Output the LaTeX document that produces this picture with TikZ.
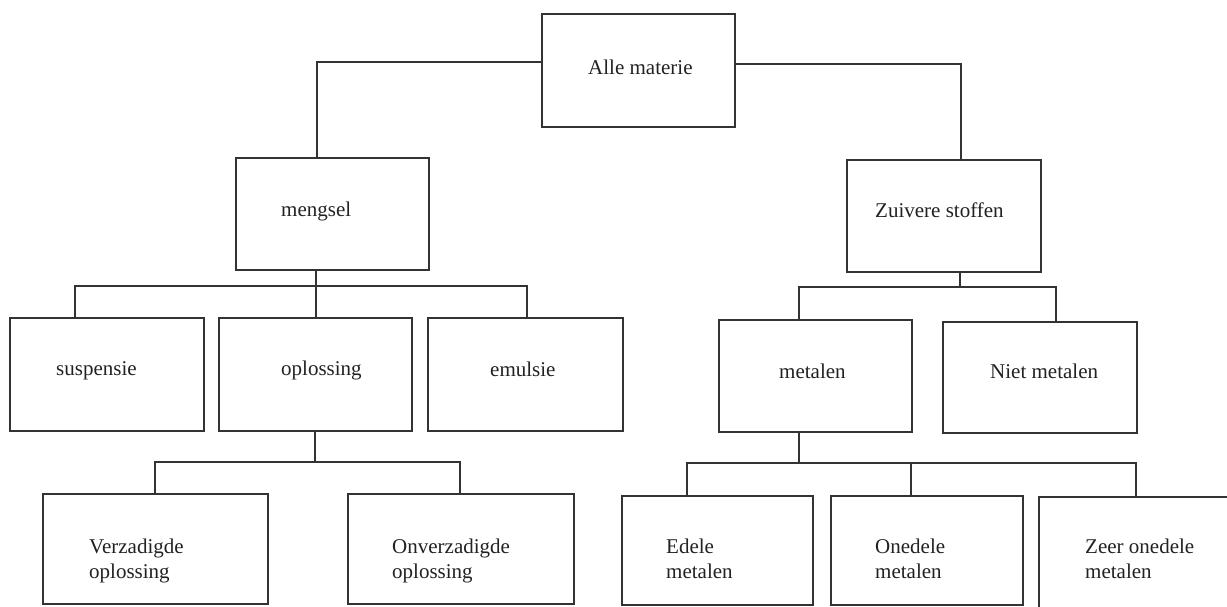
\documentclass[tikz,border=0pt]{standalone}
\usepackage{fontspec}
\setmainfont{Liberation Serif}
\definecolor{ink}{HTML}{333333}
\definecolor{txt}{HTML}{222222}
\tikzset{
  box/.style={draw=ink, line width=2pt, rectangle, inner sep=0pt, fill=none},
  conn/.style={draw=ink, line width=2pt, line cap=rect},
  lbl/.style={anchor=base west, inner sep=0pt, text=txt, font=\fontsize{21}{25}\selectfont, align=left},
}
\newcommand\mybox[5]{%
  \pgfmathsetmacro\cx{(#2+#4)/2}%
  \pgfmathsetmacro\cy{(#3+#5)/2}%
  \pgfmathsetmacro\ww{#4-#2}%
  \pgfmathsetmacro\hh{#5-#3}%
  \node[box, minimum width=\ww pt, minimum height=\hh pt] (#1) at (\cx,\cy) {};}
\begin{document}
\begin{tikzpicture}[x=1pt, y=-1pt]
\useasboundingbox (0,0) rectangle (1227,606);
\fill[white] (0,0) rectangle (1227,606);
\begin{scope}
\clip (0,0) rectangle (1227,606);
% boxes
\mybox{am}{542}{14}{735}{127}
\mybox{mg}{236}{158}{429}{270}
\mybox{zs}{847}{160}{1041}{272}
\mybox{su}{10}{318}{204}{431}
\mybox{op}{219}{318}{412}{431}
\mybox{em}{428}{318}{623}{431}
\mybox{me}{719}{320}{912}{432}
\mybox{nm}{943}{322}{1137}{433}
\mybox{vz}{43}{494}{268}{604}
\mybox{ov}{348}{494}{574}{604}
\mybox{ed}{622}{496}{813}{605}
\mybox{on}{831}{496}{1023}{605}
\mybox{zo}{1039}{497}{1260}{640}
% labels
\node[lbl] (tam) at (588,74) {Alle materie};
\node[lbl] (tmg) at (281,216) {mengsel};
\node[lbl] (tzs) at (875,217) {Zuivere stoffen};
\node[lbl] (tsu) at (56,375) {suspensie};
\node[lbl] (top) at (281,375) {oplossing};
\node[lbl] (tem) at (490,376) {emulsie};
\node[lbl] (tme) at (779,378) {metalen};
\node[lbl] (tnm) at (990,378) {Niet metalen};
\node[lbl] (tvz1) at (89,553) {Verzadigde};
\node[lbl] (tvz2) at (89,578) {oplossing};
\node[lbl] (tov1) at (392,553) {Onverzadigde};
\node[lbl] (tov2) at (392,578) {oplossing};
\node[lbl] (ted1) at (666,553) {Edele};
\node[lbl] (ted2) at (666,578) {metalen};
\node[lbl] (ton1) at (875,553) {Onedele};
\node[lbl] (ton2) at (875,578) {metalen};
\node[lbl] (tzo1) at (1085,553) {Zeer onedele};
\node[lbl] (tzo2) at (1085,578) {metalen};
% connector corners
\coordinate (l1) at (317,62);
\coordinate (r1) at (961,64);
\coordinate (b1) at (316,286);
\coordinate (b1L) at (75,286);
\coordinate (b1R) at (527,286);
\coordinate (b2) at (960,287);
\coordinate (b2L) at (799,287);
\coordinate (b2R) at (1056,287);
\coordinate (b3) at (315,462);
\coordinate (b3L) at (155,462);
\coordinate (b3R) at (460,462);
\coordinate (b4) at (799,463);
\coordinate (b4L) at (687,463);
\coordinate (b4M) at (911,463);
\coordinate (b4R) at (1136,463);
% connectors
\draw[conn] (am.west |- l1) -- (l1) -- (l1 |- mg.north);
\draw[conn] (am.east |- r1) -- (r1) -- (r1 |- zs.north);
\draw[conn] (b1 |- mg.south) -- (b1) -- (b1 |- op.north);
\draw[conn] (b1L |- su.north) -- (b1L) -- (b1R) -- (b1R |- em.north);
\draw[conn] (b2 |- zs.south) -- (b2);
\draw[conn] (b2L |- me.north) -- (b2L) -- (b2R) -- (b2R |- nm.north);
\draw[conn] (b3 |- op.south) -- (b3);
\draw[conn] (b3L |- vz.north) -- (b3L) -- (b3R) -- (b3R |- ov.north);
\draw[conn] (b4 |- me.south) -- (b4);
\draw[conn] (b4L |- ed.north) -- (b4L) -- (b4R) -- (b4R |- zo.north);
\draw[conn] (b4M) -- (b4M |- on.north);
\end{scope}
\end{tikzpicture}
\end{document}
